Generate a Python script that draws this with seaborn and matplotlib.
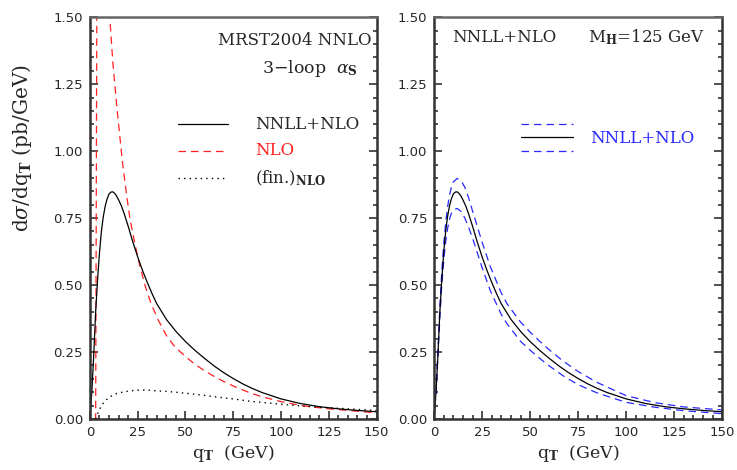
import matplotlib
matplotlib.use("Agg")
import matplotlib.pyplot as plt
import pandas as pd
import seaborn as sns
from matplotlib.ticker import MultipleLocator

# ---------------------------------------------------------------------------
# Values (qT in GeV, dsigma/dqT in pb/GeV)
# ---------------------------------------------------------------------------
qt_nnll = [0, 0.5, 1, 2, 3, 4, 5, 6, 7, 8, 9, 10, 11, 12, 13, 14, 15, 16.5,
           18, 20, 22.5, 25, 27.5, 30, 32.5, 35, 40, 45, 50, 55, 60, 65, 70,
           75, 80, 85, 90, 100, 110, 120, 130, 140, 150]
nnll = [0.0, 0.05, 0.10, 0.24, 0.40, 0.52, 0.62, 0.70, 0.755, 0.795, 0.822,
        0.84, 0.847, 0.848, 0.842, 0.832, 0.818, 0.795, 0.765, 0.72, 0.66,
        0.605, 0.555, 0.51, 0.468, 0.43, 0.372, 0.327, 0.289, 0.256, 0.226,
        0.198, 0.173, 0.151, 0.131, 0.114, 0.099, 0.075, 0.058, 0.046,
        0.038, 0.032, 0.027]

qt_nlo = [2.9, 3.0, 3.2, 3.4, 3.6, 4, 5, 6, 8, 10.4, 12, 14.3, 17, 19.5, 21,
          23.5, 26, 28.8, 32, 35.7, 40, 44.4, 50, 55, 60, 65, 70, 76, 84, 90,
          100, 110, 115, 125, 140, 150]
nlo = [-0.1, 0.0, 0.5, 1.0, 1.5, 2.2, 2.6, 2.5, 2.0, 1.5, 1.33, 1.15, 0.96,
       0.82, 0.745, 0.655, 0.575, 0.5, 0.43, 0.37, 0.312, 0.27, 0.233, 0.204,
       0.18, 0.159, 0.14, 0.12, 0.097, 0.083, 0.065, 0.051, 0.046, 0.038,
       0.029, 0.023]

qt_fin = [3, 4, 6, 8, 10.5, 14, 18, 22, 26, 30, 35, 40, 45, 53, 60, 70, 76,
          84, 90, 100, 110, 120, 130, 140, 150]
fin = [0.0, 0.02, 0.05, 0.068, 0.083, 0.095, 0.102, 0.106, 0.108, 0.108,
       0.105, 0.103, 0.10, 0.094, 0.088, 0.079, 0.074, 0.066, 0.062, 0.055,
       0.049, 0.044, 0.040, 0.036, 0.032]

qt_band = [0, 1, 2, 3, 4, 5, 6, 7, 8, 9, 10, 12, 14, 16, 18, 20.5, 25, 29.2,
           35, 38, 45, 50, 55, 60, 67, 75, 85, 100, 115, 130, 150]
band_up = [0.0, 0.10, 0.25, 0.42, 0.55, 0.65, 0.73, 0.79, 0.835, 0.865,
           0.885, 0.898, 0.89, 0.865, 0.825, 0.765, 0.66, 0.57, 0.47, 0.43,
           0.362, 0.324, 0.29, 0.258, 0.217, 0.177, 0.136, 0.087, 0.061,
           0.045, 0.034]
band_lo = [0.0, 0.10, 0.24, 0.38, 0.50, 0.59, 0.66, 0.71, 0.745, 0.768,
           0.78, 0.786, 0.775, 0.75, 0.715, 0.665, 0.565, 0.48, 0.39, 0.355,
           0.29, 0.257, 0.226, 0.198, 0.162, 0.128, 0.097, 0.062, 0.044,
           0.031, 0.02]

x_ticks = [0, 25, 50, 75, 100, 125, 150]
y_ticks = [0.00, 0.25, 0.50, 0.75, 1.00, 1.25, 1.50]

# ---------------------------------------------------------------------------
# Style
# ---------------------------------------------------------------------------
sns.set_style("ticks")
plt.rcParams["font.family"] = ["DejaVu Sans"]
plt.rcParams["mathtext.fontset"] = "dejavuserif"

SERIF = ["DejaVu Serif"]
RED = "#ff2020"
BLUE = "#2828ff"
LW = 0.9
DASH = (0, (6, 4))
DOT = (0, (1, 3))


def style_axes(ax):
    ax.set_xlim(0, 150)
    ax.set_ylim(0, 1.5)
    ax.set_xticks(x_ticks)
    ax.set_yticks(y_ticks)
    ax.set_yticklabels([f"{v:.2f}" for v in y_ticks])
    ax.xaxis.set_minor_locator(MultipleLocator(5))
    ax.yaxis.set_minor_locator(MultipleLocator(0.05))
    ax.tick_params(which="both", direction="in", top=False, right=True,
                   labelsize=9.5, width=1.1, color="#222222", pad=5)
    ax.tick_params(which="major", length=6)
    ax.tick_params(which="minor", length=3)
    for s in ax.spines.values():
        s.set_visible(True)
        s.set_linewidth(1.8)
        s.set_color("#333333")
    ax.spines["top"].set_color("#666666")
    ax.set_xlabel(r"q$_\mathbf{T}$  (GeV)", family=SERIF, fontsize=12.5,
                  labelpad=3)
    ax.set_ylabel("")


def legend_line(ax, x0, x1, y, **kw):
    ax.plot([x0, x1], [y, y], transform=ax.transAxes, clip_on=False, **kw)


fig = plt.figure(figsize=(7.37, 4.70), dpi=100)
ax1 = fig.add_axes([0.122, 0.1085, 0.389, 0.855])
ax2 = fig.add_axes([0.589, 0.1085, 0.391, 0.855])

# ---------------------------------------------------------------------------
# Left panel: NNLL+NLO vs NLO and finite part
# ---------------------------------------------------------------------------
df_nnll = pd.DataFrame({"qt": qt_nnll, "val": nnll})
df_nlo = pd.DataFrame({"qt": qt_nlo, "val": nlo})
df_fin = pd.DataFrame({"qt": qt_fin, "val": fin})

sns.lineplot(data=df_nlo, x="qt", y="val", ax=ax1, color=RED, lw=LW,
             linestyle=DASH, sort=False)
sns.lineplot(data=df_nnll, x="qt", y="val", ax=ax1, color="black", lw=LW,
             sort=False)
sns.lineplot(data=df_fin, x="qt", y="val", ax=ax1, color="black", lw=1.0,
             linestyle=DOT, sort=False)
style_axes(ax1)

ax1.text(0.983, 0.943, "MRST2004 NNLO", transform=ax1.transAxes,
         ha="right", va="center", family=SERIF, fontsize=12)
ax1.text(0.934, 0.873, r"3$-$loop  $\alpha_\mathbf{S}$",
         transform=ax1.transAxes, ha="right", va="center", family=SERIF,
         fontsize=12.5)

legend_line(ax1, 0.307, 0.481, 0.734, color="black", lw=LW)
legend_line(ax1, 0.307, 0.481, 0.667, color=RED, lw=LW, linestyle=DASH)
legend_line(ax1, 0.307, 0.481, 0.600, color="black", lw=1.0, linestyle=DOT)
ax1.text(0.575, 0.734, "NNLL+NLO", transform=ax1.transAxes, va="center",
         family=SERIF, fontsize=12)
ax1.text(0.575, 0.667, "NLO", transform=ax1.transAxes, va="center",
         family=SERIF, fontsize=12, color=RED)
ax1.text(0.575, 0.600, r"(fin.)$_\mathbf{NLO}$", transform=ax1.transAxes,
         va="center", family=SERIF, fontsize=12)

fig.text(0.03, 0.685, r"d$\sigma$/dq$_\mathbf{T}$ (pb/GeV)",
         rotation=90, ha="center", va="center", family=SERIF, fontsize=14.5)

# ---------------------------------------------------------------------------
# Right panel: NNLL+NLO with scale band
# ---------------------------------------------------------------------------
df_band = pd.DataFrame({"qt": qt_band, "up": band_up, "lo": band_lo})

sns.lineplot(data=df_band, x="qt", y="up", ax=ax2, color=BLUE, lw=LW,
             linestyle=DASH, sort=False)
sns.lineplot(data=df_band, x="qt", y="lo", ax=ax2, color=BLUE, lw=LW,
             linestyle=DASH, sort=False)
sns.lineplot(data=df_nnll, x="qt", y="val", ax=ax2, color="black", lw=LW,
             sort=False)
style_axes(ax2)

ax2.text(0.0625, 0.95, "NNLL+NLO", transform=ax2.transAxes, ha="left",
         va="center", family=SERIF, fontsize=12)
ax2.text(0.941, 0.95, r"M$_\mathbf{H}$=125 GeV", transform=ax2.transAxes,
         ha="right", va="center", family=SERIF, fontsize=12)

legend_line(ax2, 0.302, 0.483, 0.734, color=BLUE, lw=LW, linestyle=DASH)
legend_line(ax2, 0.302, 0.483, 0.701, color="black", lw=LW)
legend_line(ax2, 0.302, 0.483, 0.667, color=BLUE, lw=LW, linestyle=DASH)
ax2.text(0.542, 0.697, "NNLL+NLO", transform=ax2.transAxes, va="center",
         family=SERIF, fontsize=12, color=BLUE)

fig.savefig("out.png", dpi=100)
plt.close(fig)
